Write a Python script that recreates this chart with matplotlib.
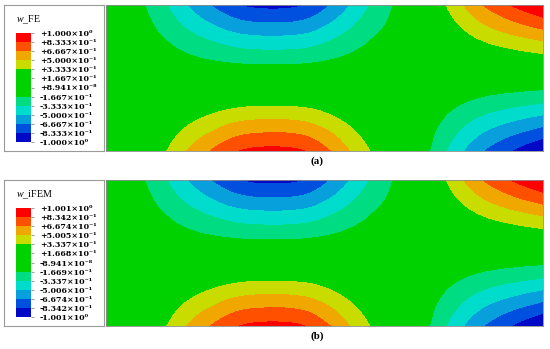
import numpy as np
import matplotlib
matplotlib.use("Agg")
import matplotlib.pyplot as plt
import matplotlib.tri as mtri

plt.rcParams['font.family'] = ['Liberation Serif', 'DejaVu Serif']
plt.rcParams['mathtext.fontset'] = 'custom'
plt.rcParams['mathtext.rm'] = 'Liberation Serif'
plt.rcParams['mathtext.it'] = 'Liberation Serif:italic'

# contour legend values, top to bottom
fe_levels = [1.000, 0.8333, 0.6667, 0.5000, 0.3333, 0.1667, 8.941e-8,
             -0.1667, -0.3333, -0.5000, -0.6667, -0.8333, -1.000]
ifem_levels = [1.001, 0.8342, 0.6674, 0.5005, 0.3337, 0.1668, -8.941e-8,
               -0.1669, -0.3337, -0.5006, -0.6674, -0.8342, -1.001]

# band colours, lowest to highest
band_colors = ['#0008c8', '#0050e0', '#08a0dc', '#00dccb', '#00dc82', '#00d200',
               '#00d200', '#00d200', '#c8dc00', '#f0a800', '#ff5000', '#ff0000']

# deflection read along the top edge (x = 0 left .. 1 right)
x_stations = [0.0, 0.045, 0.089, 0.139, 0.185, 0.238, 0.305, 0.375, 0.455, 0.513,
              0.558, 0.604, 0.657, 0.697, 0.740, 0.778, 0.818, 0.863, 0.925, 1.0]
w_top = [0.03, -0.02, -0.167, -0.333, -0.5, -0.667, -0.833, -0.88, -0.833, -0.667,
         -0.5, -0.333, -0.167, 0.0, 0.167, 0.333, 0.5, 0.667, 0.833, 1.0]

# relative deflection read across the width (y = 0 bottom .. 1 top)
y_stations = [0.0, 0.087, 0.168, 0.248, 0.33, 0.42, 0.5, 0.58, 0.667, 0.754,
              0.834, 0.915, 1.0]
w_across = [-1.0, -0.833, -0.667, -0.5, -0.333, -0.167, 0.0, 0.167, 0.333, 0.5,
            0.667, 0.833, 1.0]

panels = [("$w$_FE", fe_levels, "(a)", 5),
          ("$w$_iFEM", ifem_levels, "(b)", 180)]

W, H = 550, 349
fig = plt.figure(figsize=(W / 100, H / 100), dpi=100)

SUP = str.maketrans("0123456789-", "⁰¹²³⁴⁵⁶⁷⁸⁹⁻")


def fax(x0, y0, w, h):
    # pixel box (top-left origin) -> figure axes
    return fig.add_axes([x0 / W, 1 - (y0 + h) / H, w / W, h / H])


def fmt(v):
    m, e = f"{v:+.3e}".split('e')
    return m + "\u00d710" + str(int(e)).translate(SUP)


XX, YY = np.meshgrid(x_stations, y_stations)
field = np.outer(w_across, w_top)
tri = mtri.Triangulation(XX.ravel(), YY.ravel())
interp = mtri.CubicTriInterpolator(tri, field.ravel(), kind='geom')
tri_f, w_f = mtri.UniformTriRefiner(tri).refine_field(field.ravel(), triinterpolator=interp, subdiv=4)

for title, levels, cap, top in panels:
    lev = levels[::-1]

    box = fax(4, top, 100, 146)
    box.set_xticks([])
    box.set_yticks([])
    for s in box.spines.values():
        s.set_color('#9a9a9a')
        s.set_linewidth(0.8)
    box.text(0.12, 0.88, title, transform=box.transAxes, fontsize=7.2)

    ax = fax(106, top, 437, 146)
    cf = ax.tricontourf(tri_f, np.clip(w_f, lev[0], lev[-1]), levels=lev, colors=band_colors)
    ax.set_xlim(0, 1)
    ax.set_ylim(0, 1)
    ax.set_xticks([])
    ax.set_yticks([])
    for s in ax.spines.values():
        s.set_color('#8c8c8c')
        s.set_linewidth(0.6)

    cax = fax(16, top + 28, 15, 109)
    cb = fig.colorbar(cf, cax=cax, ticks=lev)
    cb.outline.set_visible(False)
    cax.set_yticklabels([fmt(v) for v in lev], fontweight='bold', fontsize=5.7,
                        fontfamily='DejaVu Serif')
    cax.tick_params(axis='y', length=2.5, width=0.5, color='#777777', pad=4)

    fig.text(317 / W, 1 - (top + 156) / H, cap, ha='center', va='center',
             fontsize=7.8, fontweight='bold')

fig.savefig("out.png", dpi=100)
